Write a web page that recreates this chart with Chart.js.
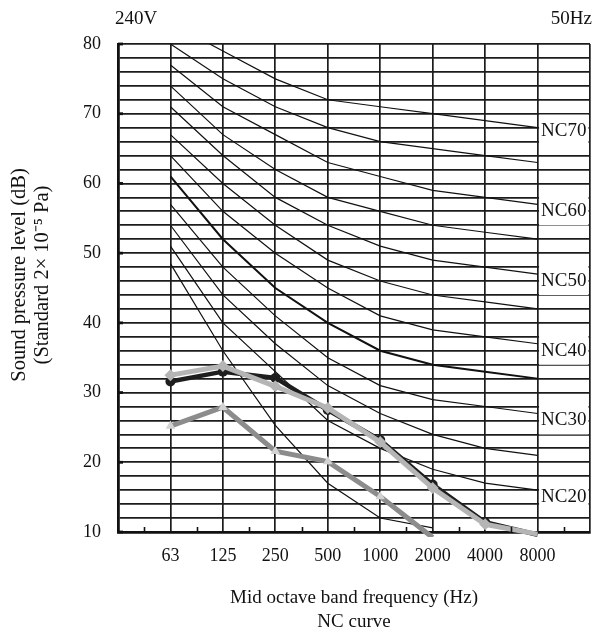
<!DOCTYPE html>
<html lang="en">
<head>
<meta charset="UTF-8">
<title>Sound pressure level - NC curve</title>
<style>
  html, body { margin: 0; padding: 0; background: #fff; }
  #wrap { width: 603px; height: 637px; }
</style>
</head>
<body>
<div id="wrap"><canvas id="ncChart" width="603" height="637"></canvas></div>

<script src="https://cdn.jsdelivr.net/npm/chart.js@4"></script>
<script>
// octave band centres (Hz) and value axis labels
const bands = ['63', '125', '250', '500', '1000', '2000', '4000', '8000'];
const dbTicks = [10, 20, 30, 40, 50, 60, 70, 80];

// NC reference curves, dB per band
const ncNames = ['NC70', 'NC65', 'NC60', 'NC55', 'NC50', 'NC45', 'NC40', 'NC35', 'NC30', 'NC25', 'NC20', 'NC15'];
const nc70 = [83, 79, 75, 72, 71, 70, 69, 68];
const nc65 = [80, 75, 71, 68, 66, 65, 64, 63];
const nc60 = [77, 71, 67, 63, 61, 59, 58, 57];
const nc55 = [74, 67, 62, 58, 56, 54, 53, 52];
const nc50 = [71, 64, 58, 54, 51, 49, 48, 47];
const nc45 = [67, 60, 54, 49, 46, 44, 43, 42];
const nc40 = [64, 56, 50, 45, 41, 39, 38, 37];
const nc35 = [61, 52, 45, 40, 36, 34, 33, 32];
const nc30 = [57, 48, 41, 35, 31, 29, 28, 27];
const nc25 = [54, 44, 37, 31, 27, 24, 22, 21];
const nc20 = [51, 40, 33, 26, 22, 19, 17, 16];
const nc15 = [48.5, 36, 25.3, 17, 12, 10.6];
const ncCurves = [nc70, nc65, nc60, nc55, nc50, nc45, nc40, nc35, nc30, nc25, nc20, nc15];
const ncLabelled = ['NC70', 'NC60', 'NC50', 'NC40', 'NC30', 'NC20'];

// measured spectra
const seriesDark = [31.6, 33.0, 32.1, 27.5, 23.2, 16.8, 11.4, 9.6];
const seriesLight = [32.5, 33.8, 30.9, 27.8, 22.9, 16.3, 11.1, 9.7];
const seriesTri = [25.2, 27.9, 21.6, 20.1, 15.1, 9.2];

const serif = '"Liberation Serif", "Times New Roman", serif';
const ink = '#111';

function toPoints(arr) {
    return arr.map((v, i) => ({ x: i, y: v }));
}

// hide markers that fall below the axis
function markerSize(r) {
    return ctx => (ctx.raw && ctx.raw.y < 10 ? 0 : r);
}

const ncDatasets = ncCurves.map((arr, k) => ({
    label: ncNames[k],
    data: toPoints(arr),
    borderColor: ink,
    borderWidth: ncNames[k] === 'NC35' ? 2 : 1.2,
    pointRadius: 0,
    tension: 0,
    order: 10
}));

const decorations = {
    id: 'decorations',
    afterDatasetsDraw(chart) {
        const { ctx, chartArea: a, scales: { x, y } } = chart;
        ctx.save();

        // short tick marks between bands along the bottom axis
        ctx.strokeStyle = ink;
        ctx.lineWidth = 1.6;
        for (let i = -0.5; i < 8; i += 1) {
            const px = Math.round(x.getPixelForValue(i)) + 0.5;
            ctx.beginPath();
            ctx.moveTo(px, a.bottom);
            ctx.lineTo(px, a.bottom - 5);
            ctx.stroke();
        }
        // heavier stubs at every 10 dB on the left axis
        ctx.lineWidth = 2.8;
        dbTicks.forEach(v => {
            const py = y.getPixelForValue(v);
            ctx.beginPath();
            ctx.moveTo(a.left, py);
            ctx.lineTo(a.left + 5, py);
            ctx.stroke();
        });

        // NC names in the last column, on a white patch
        ctx.font = '19px ' + serif;
        ctx.textAlign = 'center';
        ctx.textBaseline = 'middle';
        const x0 = x.getPixelForValue(7) + 1.5;
        const x1 = a.right - 1.5;
        ncNames.forEach((name, k) => {
            if (!ncLabelled.includes(name)) return;
            const end = ncCurves[k][ncCurves[k].length - 1];
            const cy = y.getPixelForValue(end) + (name === 'NC70' ? 2 : 6);
            ctx.fillStyle = '#fff';
            ctx.fillRect(x0, cy - 15, x1 - x0, 30);
            ctx.fillStyle = ink;
            ctx.fillText(name, (x0 + x1) / 2, cy + 1);
        });
        ctx.restore();
    },
    afterDraw(chart) {
        const { ctx, chartArea: a } = chart;
        ctx.save();
        ctx.fillStyle = ink;
        ctx.font = '19px ' + serif;
        ctx.textBaseline = 'middle';

        ctx.textAlign = 'left';
        ctx.fillText('240V', 115, 19);
        ctx.textAlign = 'right';
        ctx.fillText('50Hz', 592, 19);

        const cx = (a.left + a.right) / 2;
        ctx.textAlign = 'center';
        ctx.fillText('Mid octave band frequency (Hz)', cx, 598);
        ctx.fillText('NC curve', cx, 622);

        ctx.font = '20.5px ' + serif;
        ctx.translate(20, 275);
        ctx.rotate(-Math.PI / 2);
        ctx.fillText('Sound pressure level (dB)', 0, 0);
        ctx.fillText('(Standard 2\u00d7 10\u207b\u2075 Pa)', 0, 23);
        ctx.restore();
    }
};

new Chart(document.getElementById('ncChart'), {
    type: 'line',
    data: {
        datasets: [
            {
                label: 'Triangle',
                data: toPoints(seriesTri),
                borderColor: '#8c8c8c',
                borderWidth: 5,
                pointStyle: 'triangle',
                pointRadius: markerSize(5.5),
                pointBackgroundColor: '#d2d2d2',
                pointBorderColor: '#d2d2d2',
                pointBorderWidth: 0,
                tension: 0,
                clip: { left: 0, top: 0, right: 0, bottom: 5 },
                order: 1
            },
            {
                label: 'Diamond',
                data: toPoints(seriesLight),
                borderColor: '#b5b5b5',
                borderWidth: 5,
                pointStyle: 'rectRot',
                pointRadius: markerSize(6),
                pointBackgroundColor: '#b5b5b5',
                pointBorderColor: '#b5b5b5',
                pointBorderWidth: 0,
                tension: 0,
                clip: { left: 0, top: 0, right: 0, bottom: 5 },
                order: 2
            },
            {
                label: 'Circle',
                data: toPoints(seriesDark),
                borderColor: '#1e1e1e',
                borderWidth: 4.5,
                pointStyle: 'circle',
                pointRadius: markerSize(5),
                pointBackgroundColor: '#1e1e1e',
                pointBorderColor: '#1e1e1e',
                pointBorderWidth: 0,
                tension: 0,
                clip: { left: 0, top: 0, right: 0, bottom: 5 },
                order: 3
            },
            ...ncDatasets
        ]
    },
    options: {
        responsive: false,
        animation: false,
        events: [],
        layout: { padding: { top: 44, right: 12, left: 0, bottom: 0 } },
        plugins: {
            legend: { display: false },
            tooltip: { enabled: false }
        },
        scales: {
            x: {
                type: 'linear',
                min: -1,
                max: 8,
                afterFit(scale) { scale.height = 105; },
                ticks: {
                    stepSize: 1,
                    autoSkip: false,
                    maxRotation: 0,
                    padding: 13,
                    color: ink,
                    font: { family: serif, size: 18 },
                    callback: v => bands[v] ?? ''
                },
                grid: { color: '#1c1c1c', lineWidth: 1.7, drawTicks: false },
                border: { display: true, color: ink, width: 2.8 }
            },
            y: {
                min: 10,
                max: 80,
                afterFit(scale) { scale.width = 118; },
                ticks: {
                    stepSize: 2,
                    autoSkip: false,
                    padding: 17,
                    color: ink,
                    font: { family: serif, size: 18 },
                    callback: v => (dbTicks.includes(v) ? v : '')
                },
                grid: { color: '#1c1c1c', lineWidth: 1.7, drawTicks: false },
                border: { display: true, color: ink, width: 2.8 }
            }
        }
    },
    plugins: [decorations]
});
</script>
</body>
</html>
